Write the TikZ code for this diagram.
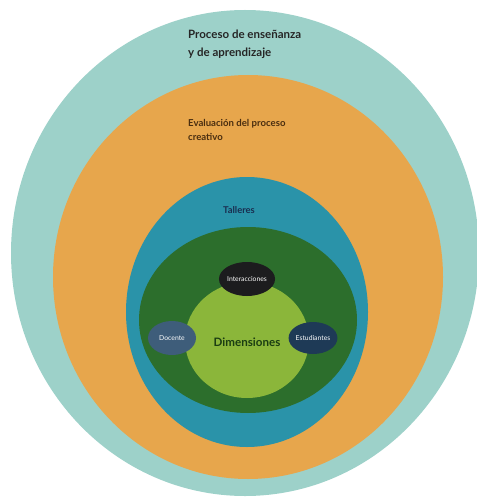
\documentclass[tikz,border=0pt]{standalone}
\usepackage{fontspec}
\setmainfont{Lato}
\usetikzlibrary{shapes.geometric}
\definecolor{cTeal}{HTML}{9DD1C9}
\definecolor{cOrange}{HTML}{E7A64C}
\definecolor{cBlue}{HTML}{2A93A9}
\definecolor{cDark}{HTML}{2C6E2C}
\definecolor{cLight}{HTML}{8BB63A}
\definecolor{cBlack}{HTML}{1C1C1E}
\definecolor{cDoc}{HTML}{3E5D7A}
\definecolor{cEst}{HTML}{1E3A56}
\definecolor{cBrown}{HTML}{4A2E10}
\definecolor{cNavy}{HTML}{1A2E50}
\definecolor{cDim}{HTML}{1B3D12}
\tikzset{
  ring/.style={ellipse, draw=none, inner sep=0pt},
  small/.style={ellipse, draw=none, inner sep=0pt, text=white, font=\fontsize{6.8}{8}\selectfont},
  lbl/.style={align=left, anchor=north west, inner sep=0pt}
}
\begin{document}
\begin{tikzpicture}[x=1pt,y=-1pt]
\useasboundingbox (0,0) rectangle (476,497);
\node[ring, fill=cTeal, minimum width=468pt, minimum height=486pt] (outer) at (245,253) {};
\node[ring, fill=cOrange, minimum width=390pt, minimum height=404pt] (eval) at (248,277) {};
\node[ring, fill=cBlue, minimum width=242pt, minimum height=270pt] (tall) at (247,312) {};
\node[ring, fill=cDark, minimum width=218pt, minimum height=186pt] (dark) at (248,320) {};
\node[ring, fill=cLight, minimum width=124pt, minimum height=116pt] (dim) at (247,340) {};
\node[small, fill=cBlack, minimum width=50pt, minimum height=34pt] (inter) at (247,279) {Interacciones};
\node[small, fill=cDoc, minimum width=48pt, minimum height=34pt] (doc) at (172,338) {Docente};
\node[small, fill=cEst, minimum width=48pt, minimum height=32pt] (est) at (313,338) {Estudiantes};
\node[lbl, font=\bfseries\fontsize{11.5}{18}\selectfont, text=black!85] (t1) at (188,30) {Proceso de enseñanza\\y de aprendizaje};
\node[lbl, font=\fontsize{9.6}{14}\selectfont\bfseries, text=cBrown] (t2) at (188,119) {Evaluación del proceso\\creativo};
\node[font=\fontsize{9.4}{10}\selectfont\bfseries, text=cNavy, inner sep=0pt] (t3) at (239,210) {Talleres};
\node[font=\fontsize{11.6}{13}\selectfont\bfseries, text=cDim, inner sep=0pt] (t4) at (247,342) {Dimensiones};
\end{tikzpicture}
\end{document}
